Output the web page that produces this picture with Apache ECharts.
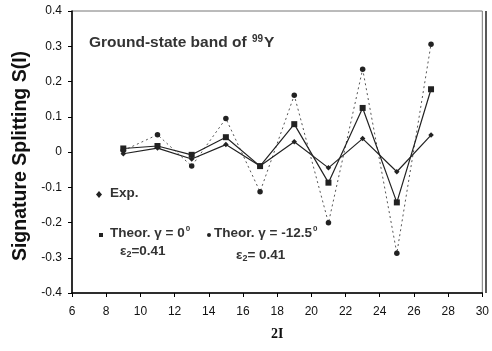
<!DOCTYPE html>
<html>
<head>
<meta charset="utf-8">
<script src="https://cdn.jsdelivr.net/npm/echarts@6/dist/echarts.min.js"></script>
<style>
  html, body { margin: 0; padding: 0; background: #fff; }
  #chart { width: 492px; height: 351px; }
</style>
</head>
<body>
<div id="chart"></div>
<script>
// spin values 2I
const spins = [9, 11, 13, 15, 17, 19, 21, 23, 25, 27];
// experimental signature splitting
const expVals = [-0.005, 0.011, -0.020, 0.021, -0.040, 0.029, -0.045, 0.038, -0.056, 0.048];
// theory, gamma = 0
const theorG0 = [0.010, 0.017, -0.008, 0.042, -0.040, 0.079, -0.087, 0.125, -0.143, 0.178];
// theory, gamma = -12.5
const theorG125 = [0.004, 0.049, -0.040, 0.095, -0.113, 0.161, -0.201, 0.235, -0.287, 0.306];

const pairs = (ys) => spins.map((x, i) => [x, ys[i]]);

const chart = echarts.init(document.getElementById('chart'));
const fnt = 'Liberation Sans, Arial, sans-serif';

chart.setOption({
  animation: false,
  grid: { left: 72, right: 6, top: 11, bottom: 58, show: true, borderColor: '#777', borderWidth: 1 },
  xAxis: {
    type: 'value', min: 6, max: 30, interval: 2,
    name: '2I', nameLocation: 'middle', nameGap: 34,
    nameTextStyle: { fontFamily: 'Liberation Serif, serif', fontWeight: 'bold', fontSize: 14, color: '#111' },
    axisLine: { onZero: false, lineStyle: { color: '#000', width: 1.5 } },
    axisTick: { length: 4, lineStyle: { color: '#000' } },
    axisLabel: { fontFamily: fnt, fontSize: 12, color: '#111', margin: 13 },
    splitLine: { show: false }
  },
  yAxis: {
    type: 'value', min: -0.4, max: 0.4, interval: 0.1,
    name: 'Signature Splitting S(I)', nameLocation: 'middle', nameGap: 35,
    nameTextStyle: { fontFamily: fnt, fontWeight: 'bold', fontSize: 19.5, color: '#111', padding: [0, 8, 0, 0] },
    axisLine: { show: true, onZero: false, lineStyle: { color: '#000', width: 1.5 } },
    axisTick: { show: true, length: 4, lineStyle: { color: '#000' } },
    axisLabel: { fontFamily: fnt, fontSize: 12, color: '#111', margin: 10,
      formatter: v => (Math.abs(v) < 1e-9 ? '0' : v.toFixed(1)) },
    splitLine: { show: false }
  },
  series: [
    {
      name: 'Theor. -12.5', type: 'line', data: pairs(theorG125),
      symbol: 'circle', symbolSize: 5.5,
      lineStyle: { color: '#555', width: 1, type: [2, 3] },
      itemStyle: { color: '#222' }
    },
    {
      name: 'Theor. 0', type: 'line', data: pairs(theorG0),
      symbol: 'rect', symbolSize: 6,
      lineStyle: { color: '#222', width: 1.2 },
      itemStyle: { color: '#222' }
    },
    {
      name: 'Exp.', type: 'line', data: pairs(expVals),
      symbol: 'diamond', symbolSize: 5.5,
      lineStyle: { color: '#222', width: 1.2 },
      itemStyle: { color: '#222' }
    }
  ],
  graphic: [
    // right frame edge is darker than the top one in the original
    { type: 'line', shape: { x1: 486, y1: 11, x2: 486, y2: 293 }, style: { stroke: '#222', lineWidth: 1.5 } },
    { type: 'text', left: 89, top: 34, style: {
      text: '{b|Ground-state band of }{s|99}{b|Y}',
      rich: {
        b: { fontFamily: fnt, fontWeight: 'bold', fontSize: 15.5, fill: '#333' },
        s: { fontFamily: fnt, fontWeight: 'bold', fontSize: 10, fill: '#333', verticalAlign: 'top', padding: [0, 1, 8, 1] }
      } } },
    { type: 'polygon', shape: { points: [[99, 191], [102, 194.5], [99, 198], [96, 194.5]] }, style: { fill: '#222' } },
    { type: 'text', left: 110, top: 186, style: { text: 'Exp.', fontFamily: fnt, fontWeight: 'bold', fontSize: 13.5, fill: '#333' } },
    { type: 'rect', shape: { x: 99, y: 233, width: 4, height: 4 }, style: { fill: '#222' } },
    { type: 'text', left: 110, top: 225, style: {
      text: '{b|Theor. γ = 0}{s|0}',
      rich: {
        b: { fontFamily: fnt, fontWeight: 'bold', fontSize: 13.5, fill: '#333' },
        s: { fontFamily: fnt, fontWeight: 'bold', fontSize: 8, fill: '#333', verticalAlign: 'top', padding: [0, 0, 8, 1] }
      } } },
    { type: 'text', left: 120, top: 244, style: {
      text: '{b|ε}{u|2}{b|=0.41}',
      rich: {
        b: { fontFamily: fnt, fontWeight: 'bold', fontSize: 13.5, fill: '#333' },
        u: { fontFamily: fnt, fontWeight: 'bold', fontSize: 9, fill: '#333', verticalAlign: 'bottom', padding: [8, 0, 0, 0] }
      } } },
    { type: 'circle', shape: { cx: 209, cy: 235, r: 2 }, style: { fill: '#222' } },
    { type: 'text', left: 214, top: 225, style: {
      text: '{b|Theor. γ = -12.5}{s|0}',
      rich: {
        b: { fontFamily: fnt, fontWeight: 'bold', fontSize: 13.5, fill: '#333' },
        s: { fontFamily: fnt, fontWeight: 'bold', fontSize: 8, fill: '#333', verticalAlign: 'top', padding: [0, 0, 8, 1] }
      } } },
    { type: 'text', left: 236, top: 248, style: {
      text: '{b|ε}{u|2}{b|= 0.41}',
      rich: {
        b: { fontFamily: fnt, fontWeight: 'bold', fontSize: 13.5, fill: '#333' },
        u: { fontFamily: fnt, fontWeight: 'bold', fontSize: 9, fill: '#333', verticalAlign: 'bottom', padding: [8, 0, 0, 0] }
      } } }
  ]
});
</script>
</body>
</html>
